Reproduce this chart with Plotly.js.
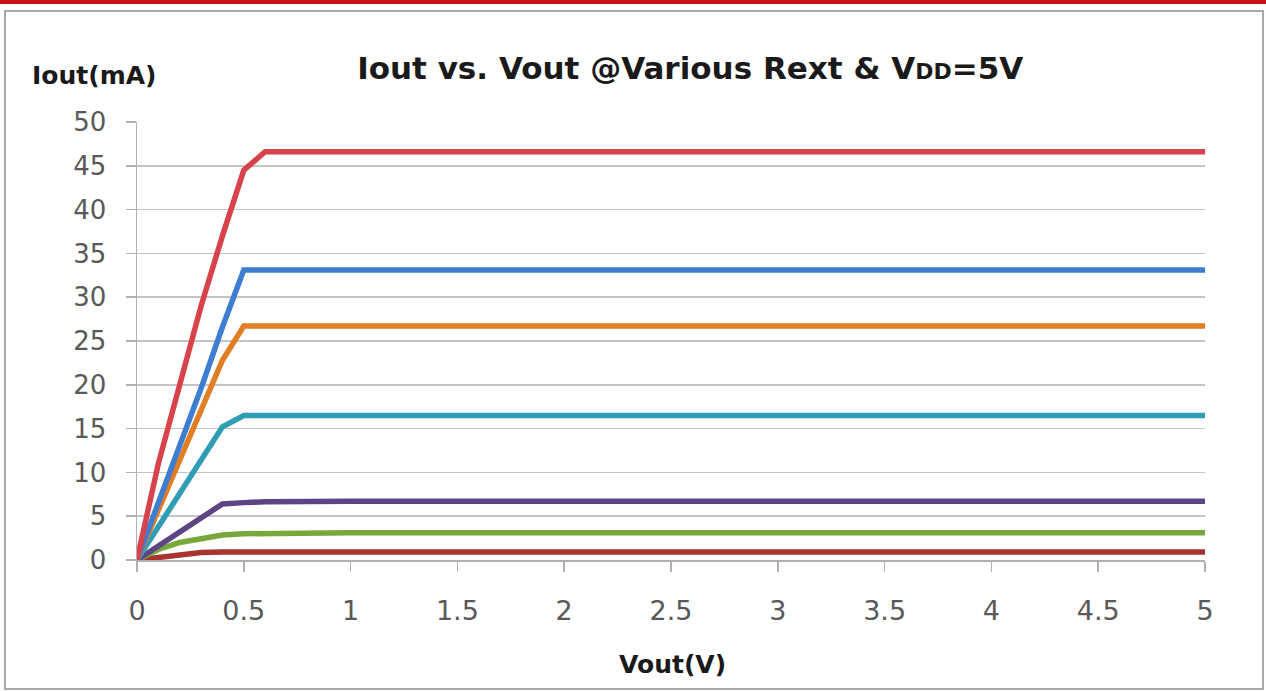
<!DOCTYPE html>
<html>
<head>
<meta charset="utf-8">
<script src="https://cdn.plot.ly/plotly-3.0.1.min.js"></script>
<style>
  html, body { margin: 0; padding: 0; background: #ffffff; }
  #wrap { position: relative; width: 1266px; height: 691px; overflow: hidden; }
  #chart { position: absolute; left: 0; top: 0; width: 1266px; height: 691px; }
  #redbar { position: absolute; left: 0; top: 0; width: 1266px; height: 4px; background: #C8101A; pointer-events: none; }
  #frame { position: absolute; left: 4px; top: 10px; width: 1256px; height: 676px; border: 2px solid #A8A8A8; pointer-events: none; }
</style>
</head>
<body>
<div id="wrap">
  <div id="chart"></div>
  <div id="frame"></div>
  <div id="redbar"></div>
</div>
<script>
// Vout (V)
const vout = [0, 0.1, 0.2, 0.3, 0.4, 0.5, 0.6, 1, 2, 3, 4, 5];

// Iout (mA) for each Rext setting
const iout1 = [0, 11.0, 20.0, 29.0, 37.0, 44.5, 46.6, 46.6, 46.6, 46.6, 46.6, 46.6];
const iout2 = [0, 6.4, 13.0, 19.6, 26.6, 33.1, 33.1, 33.1, 33.1, 33.1, 33.1, 33.1];
const iout3 = [0, 5.8, 11.5, 17.2, 22.8, 26.7, 26.7, 26.7, 26.7, 26.7, 26.7, 26.7];
const iout4 = [0, 3.8, 7.6, 11.4, 15.2, 16.5, 16.5, 16.5, 16.5, 16.5, 16.5, 16.5];
const iout5 = [0, 1.6, 3.2, 4.8, 6.4, 6.55, 6.65, 6.7, 6.7, 6.7, 6.7, 6.7];
const iout6 = [0, 1.2, 2.0, 2.5, 2.85, 3.0, 3.05, 3.1, 3.1, 3.1, 3.1, 3.1];
const iout7 = [0, 0.25, 0.6, 0.85, 0.9, 0.9, 0.9, 0.9, 0.9, 0.9, 0.9, 0.9];

const yTicks = [0, 5, 10, 15, 20, 25, 30, 35, 40, 45, 50];
const xTicks = [0, 0.5, 1, 1.5, 2, 2.5, 3, 3.5, 4, 4.5, 5];
const xTickText = ["0", "0.5", "1", "1.5", "2", "2.5", "3", "3.5", "4", "4.5", "5"];

const seriesList = [
  { y: iout7, color: "#A8332F" },
  { y: iout6, color: "#77A83A" },
  { y: iout5, color: "#5C4585" },
  { y: iout4, color: "#2F9DB3" },
  { y: iout3, color: "#E07D25" },
  { y: iout2, color: "#3E7ED2" },
  { y: iout1, color: "#D8434B" }
];

const traces = seriesList.map(s => ({
  x: vout, y: s.y, type: "scatter", mode: "lines",
  line: { color: s.color, width: 5.5 },
  hoverinfo: "skip", showlegend: false
}));

const font = "DejaVu Sans, sans-serif";

const layout = {
  width: 1266, height: 691,
  margin: { l: 137, r: 61, t: 122, b: 131 },
  paper_bgcolor: "rgba(0,0,0,0)",
  plot_bgcolor: "#ffffff",
  showlegend: false,
  title: {
    text: "<b>Iout vs. Vout @Various Rext & V<span style='font-size:22px'>DD</span>=5V</b>",
    font: { family: font, size: 31, color: "#1a1a1a" },
    x: 0.518, xref: "paper", xanchor: "center",
    y: 0.902, yref: "container", yanchor: "middle"
  },
  xaxis: {
    range: [0, 5], tickvals: xTicks, ticktext: xTickText,
    showgrid: false, zeroline: false,
    showline: true, linecolor: "#B0B0B0", linewidth: 1.5,
    ticks: "outside", ticklen: 10, tickcolor: "#B0B0B0", tickwidth: 1.5,
    tickfont: { family: font, size: 27, color: "#595959" },
    ticklabelstandoff: 16,
    fixedrange: true
  },
  yaxis: {
    range: [0, 50], tickvals: yTicks,
    showgrid: true, gridcolor: "#C4C4C4", gridwidth: 1.5,
    zeroline: false,
    showline: true, linecolor: "#B0B0B0", linewidth: 1.5,
    ticks: "outside", ticklen: 10, tickcolor: "#B0B0B0", tickwidth: 1.5,
    tickfont: { family: font, size: 26, color: "#595959" },
    ticklabelstandoff: 14,
    fixedrange: true
  },
  annotations: [
    {
      text: "<b>Iout(mA)</b>", xref: "paper", yref: "paper",
      x: (93.5 - 137) / 1068, y: (560 - 75) / 438, xanchor: "center", yanchor: "middle",
      showarrow: false, font: { family: font, size: 25, color: "#1a1a1a" }
    },
    {
      text: "<b>Vout(V)</b>", xref: "paper", yref: "paper",
      x: (672 - 137) / 1068, y: (560 - 664) / 438, xanchor: "center", yanchor: "middle",
      showarrow: false, font: { family: font, size: 25, color: "#1a1a1a" }
    }
  ]
};

Plotly.newPlot("chart", traces, layout, { displayModeBar: false, staticPlot: true });
</script>
</body>
</html>
